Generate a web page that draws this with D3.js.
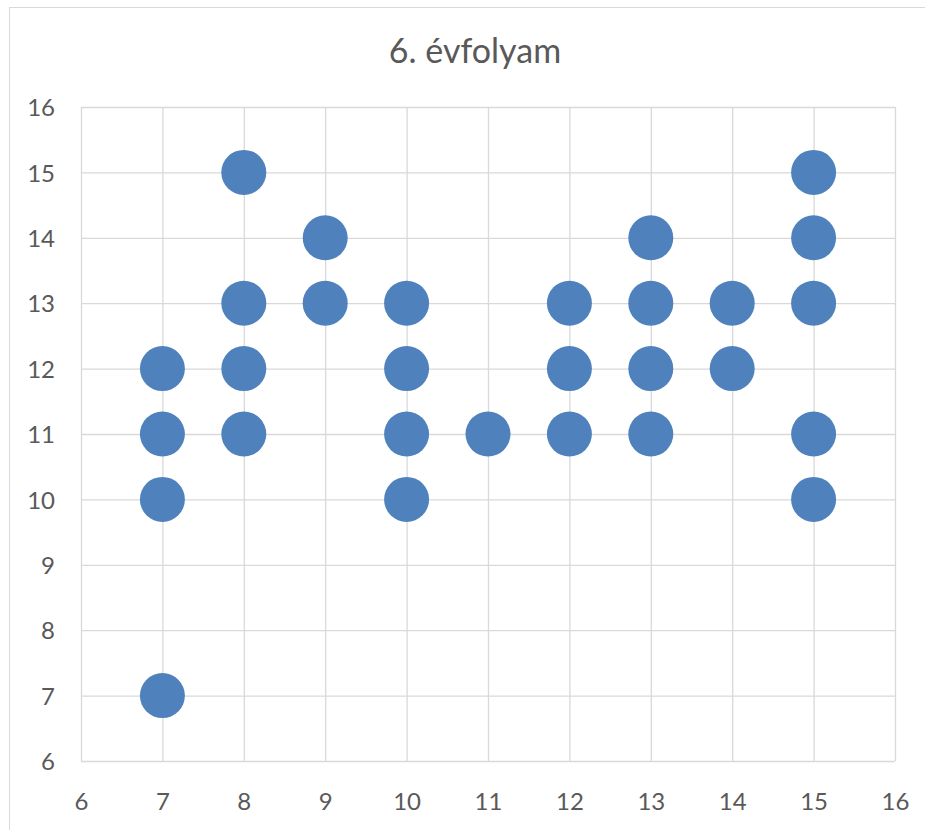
<!DOCTYPE html>
<html><head><meta charset="utf-8">
<script src="https://cdn.jsdelivr.net/npm/d3@7"></script>
<style>body{margin:0;background:#fff}svg{display:block}</style>
</head><body>
<script>
const title = "6. évfolyam";
const xValues = [7,7,7,7, 8,8,8,8, 9,9, 10,10,10,10, 11, 12,12,12, 13,13,13,13, 14,14, 15,15,15,15,15];
const yValues = [12,11,10,7, 15,13,12,11, 14,13, 13,12,11,10, 11, 13,12,11, 14,13,12,11, 13,12, 15,14,13,11,10];
const xTicks = [6,7,8,9,10,11,12,13,14,15,16];
const yTicks = [6,7,8,9,10,11,12,13,14,15,16];

const W = 925, H = 830;
const svg = d3.select("body").append("svg").attr("width", W).attr("height", H);
svg.append("rect").attr("x", 9.5).attr("y", 7.5).attr("width", 930).attr("height", 840)
  .attr("fill", "#fff").attr("stroke", "#d9d9d9");

const x = d3.scaleLinear().domain([6,16]).range([81, 895]);
const y = d3.scaleLinear().domain([6,16]).range([761, 107]);
const font = "Lato, 'Open Sans', sans-serif";

const gx = svg.append("g").attr("transform", `translate(0,${y(6)})`)
  .call(d3.axisBottom(x).tickValues(xTicks).tickSize(-(y(6)-y(16))).tickPadding(24));
const gy = svg.append("g").attr("transform", `translate(${x(6)},0)`)
  .call(d3.axisLeft(y).tickValues(yTicks).tickSize(-(x(16)-x(6))).tickPadding(26));
[gx, gy].forEach(g => {
  g.select(".domain").remove();
  g.selectAll(".tick line").attr("stroke", "#d9d9d9").attr("stroke-width", 1.3);
  g.selectAll(".tick text").attr("fill", "#595959").style("font-family", font).style("font-size", "24px");
});
gy.selectAll(".tick text").attr("dy", "0.36em");
gx.selectAll(".tick text").attr("y", 40).attr("dy", "0.36em");

svg.append("g").selectAll("circle").data(xValues.map((v,i)=>[v, yValues[i]])).join("circle")
  .attr("cx", d => x(d[0])).attr("cy", d => y(d[1])).attr("r", 22.5)
  .attr("fill", "#4f81bd");

svg.append("text").attr("x", 475).attr("y", 63).attr("text-anchor", "middle")
  .attr("fill", "#595959").style("font-family", font).style("font-size", "34px").text(title);
</script>
</body></html>
